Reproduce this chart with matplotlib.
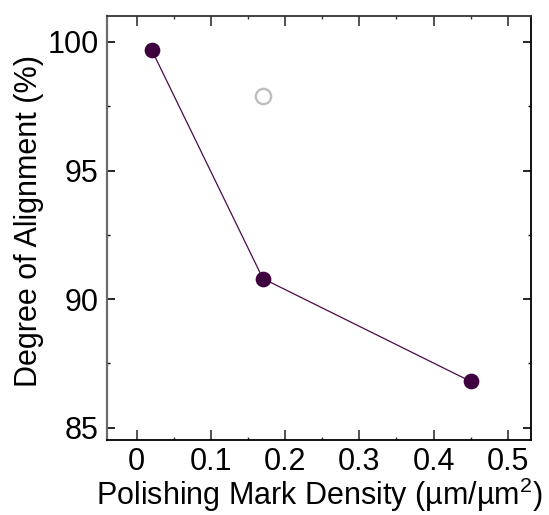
import matplotlib
matplotlib.use("Agg")
import matplotlib.pyplot as plt
from matplotlib.ticker import MultipleLocator

plt.rcParams['font.family'] = ['Liberation Sans', 'DejaVu Sans']
plt.rcParams['mathtext.fontset'] = 'custom'
plt.rcParams['mathtext.rm'] = 'Liberation Sans'
plt.rcParams['mathtext.it'] = 'Liberation Sans'

# measured samples
density = [0.02, 0.17, 0.45]
alignment = [99.7, 90.8, 86.8]
# outlier sample, drawn hollow
density_out = [0.17]
alignment_out = [97.9]

x_ticks = [0, 0.1, 0.2, 0.3, 0.4, 0.5]
x_labels = ['0', '0.1', '0.2', '0.3', '0.4', '0.5']
y_ticks = [85, 90, 95, 100]

fig = plt.figure(figsize=(5.49, 5.15), dpi=100)
ax = fig.add_axes([0.195, 0.1456, 0.7717, 0.8243])

ax.plot(density, alignment, '-', color='#4b0a4b', lw=0.9,
        marker='o', ms=10.3, mfc='#3f003f', mec='#3f003f')
ax.plot(density_out, alignment_out, 'o', ms=11, mfc='none',
        mec='#bdbdbd', mew=1.7)

ax.set_xlim(-0.04, 0.531)
ax.set_ylim(84.52, 101.03)
ax.set_xticks(x_ticks)
ax.set_xticklabels(x_labels)
ax.set_yticks(y_ticks)
ax.xaxis.set_minor_locator(MultipleLocator(0.05))
ax.yaxis.set_minor_locator(MultipleLocator(2.5))

# spines
ax.spines['left'].set_color('#6a6a6a')
ax.spines['left'].set_linewidth(1.6)
ax.spines['bottom'].set_color('black')
ax.spines['bottom'].set_linewidth(1.3)
ax.spines['top'].set_color('#333333')
ax.spines['top'].set_linewidth(1.3)
ax.spines['right'].set_color('black')
ax.spines['right'].set_linewidth(1.3)

# ticks point inward; left ones blue
ax.tick_params(axis='x', which='both', direction='in', top=True,
               color='#333333', labelsize=22, pad=5)
ax.tick_params(axis='x', which='major', length=7, width=1.2)
ax.tick_params(axis='x', which='minor', length=2.5, width=1.0)
ax.tick_params(axis='y', which='both', direction='in', right=True,
               labelsize=22, pad=6)
ax.tick_params(axis='y', which='major', length=6, width=1.2)
ax.tick_params(axis='y', which='minor', length=2.5, width=1.0)
for t in ax.yaxis.get_major_ticks() + ax.yaxis.get_minor_ticks():
    t.tick1line.set_color('#3030ff')
    t.tick2line.set_color('#555555')

ax.set_xlabel('Polishing Mark Density (µm/µm$^2$)', fontsize=22)
ax.xaxis.set_label_coords(0.5, -0.085)
ax.set_ylabel('Degree of Alignment (%)', fontsize=22)
ax.yaxis.set_label_coords(-0.150, 0.516)

fig.savefig('out.png', dpi=100)
